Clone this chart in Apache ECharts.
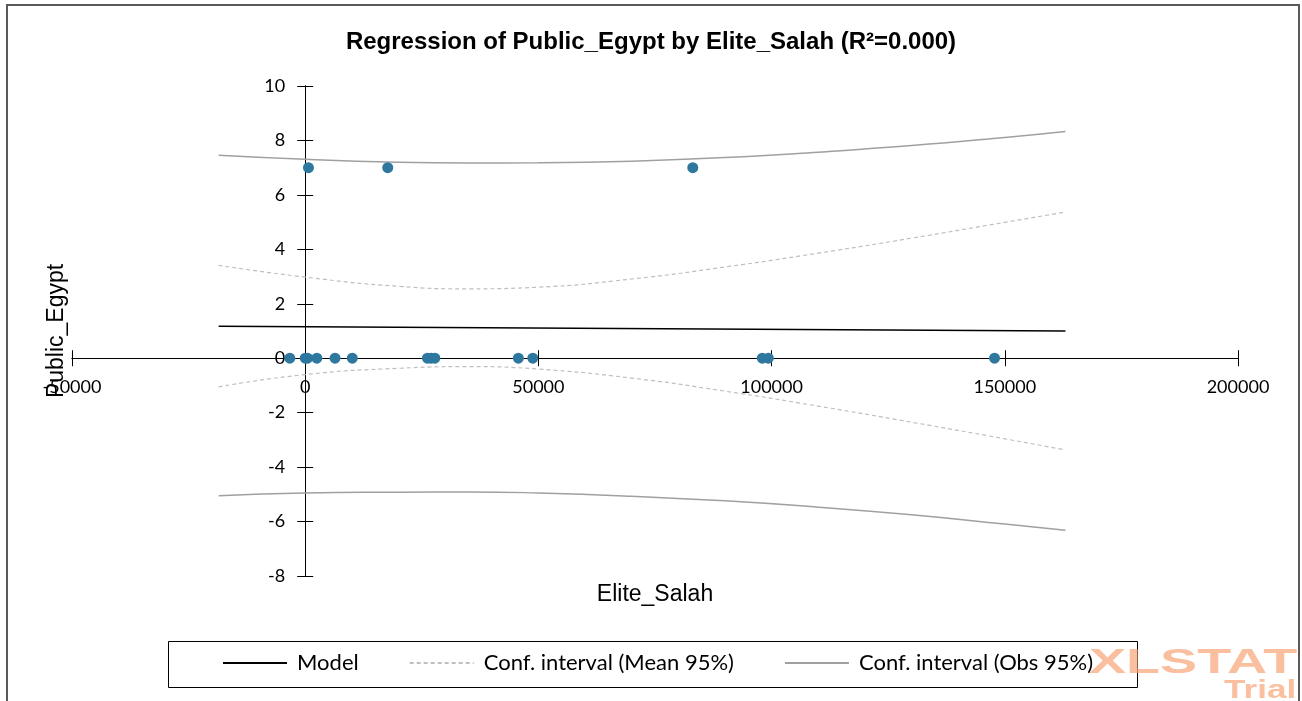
<!DOCTYPE html>
<html>
<head>
<meta charset="utf-8">
<script src="https://cdn.jsdelivr.net/npm/echarts@6/dist/echarts.min.js"></script>
<style>
html,body{margin:0;padding:0;background:#fff;}
#chart{width:1302px;height:701px;}
</style>
</head>
<body>
<div id="chart"></div>
<script>
// Observations (Elite_Salah, Public_Egypt)
var obsX = [-3300, 0, 500, 2500, 6400, 10100, 26200, 27000, 27800, 45700, 48800, 98000, 99300, 147800, 700, 17700, 83100];
var obsY = [0, 0, 0, 0, 0, 0, 0, 0, 0, 0, 0, 0, 0, 0, 7, 7, 7];

// Model line
var modelX = [-18560, 163000];
var modelY = [1.17, 1.0];

// Confidence curves sampled along x
var curveX = [-18560, 0, 20000, 35000, 50000, 70000, 90000, 110000, 130000, 150000, 163000];
var meanUpper = [3.41, 2.98, 2.64, 2.55, 2.61, 2.91, 3.35, 3.86, 4.41, 4.99, 5.37];
var meanLower = [-1.05, -0.60, -0.37, -0.31, -0.40, -0.73, -1.21, -1.76, -2.35, -2.96, -3.37];
var obsUpper = [7.46, 7.31, 7.20, 7.17, 7.18, 7.24, 7.37, 7.57, 7.81, 8.11, 8.33];
var obsLower = [-5.05, -4.95, -4.92, -4.91, -4.95, -5.07, -5.24, -5.47, -5.75, -6.09, -6.32];

// Axis scales
var xMin = -50000, xMax = 200000, xStep = 50000;
var yMin = -8, yMax = 10, yStep = 2;

var legendNames = ['Model', 'Conf. interval (Mean 95%)', 'Conf. interval (Obs 95%)'];
var titleText = 'Regression of Public_Egypt by Elite_Salah (R\u00b2=0.000)';

function pairs(xs, ys){ return xs.map(function(x,i){ return [x, ys[i]]; }); }
function plain(v){ return String(v); }

var W = 1302, H = 701;
var G = {left:72, right:64, top:86, bottom:125};
var gw = W - G.left - G.right, gh = H - G.top - G.bottom;
// shift axes so that they cross at zero (derived from the scales)
var xZeroFromLeft = gw * (0 - xMin) / (xMax - xMin);
var yZeroFromBottom = gh * (0 - yMin) / (yMax - yMin);

var chart = echarts.init(document.getElementById('chart'));
chart.setOption({
  animation:false,
  backgroundColor:'#fff',
  title:{text:titleText, left:'center', top:25,
    textStyle:{fontFamily:'Liberation Sans', fontWeight:'bold', fontSize:24, color:'#000'}},
  grid:{left:G.left, right:G.right, top:G.top, bottom:G.bottom, containLabel:false, outerBoundsMode:'none'},
  xAxis:[
    {type:'value', position:'bottom', min:xMin, max:xMax, interval:xStep, offset:-yZeroFromBottom,
     axisLine:{onZero:false, lineStyle:{color:'#000', width:1}},
     axisTick:{show:true, inside:false, length:8, lineStyle:{color:'#000'}},
     axisLabel:{margin:20, fontFamily:'Lato', fontSize:18, color:'#000', formatter:plain},
     splitLine:{show:false},
     name:'Elite_Salah', nameLocation:'middle', nameGap:225,
     nameTextStyle:{fontFamily:'Liberation Sans', fontSize:23, color:'#000'}},
    {type:'value', position:'top', min:xMin, max:xMax, interval:xStep, offset:-(gh - yZeroFromBottom),
     axisLine:{onZero:false, lineStyle:{color:'#000', width:1}},
     axisTick:{show:true, inside:false, length:8, lineStyle:{color:'#000'}},
     axisLabel:{show:false}, splitLine:{show:false}}
  ],
  yAxis:[
    {type:'value', position:'left', min:yMin, max:yMax, interval:yStep, offset:-xZeroFromLeft,
     axisLine:{show:true, onZero:false, lineStyle:{color:'#000', width:1}},
     axisTick:{show:true, inside:false, length:8, lineStyle:{color:'#000'}},
     axisLabel:{margin:20, fontFamily:'Lato', fontSize:18, color:'#000', formatter:plain},
     splitLine:{show:false},
     name:'Public_Egypt', nameLocation:'middle', nameGap:237, nameRotate:90,
     nameTextStyle:{fontFamily:'Liberation Sans', fontSize:23, color:'#000'}},
    {type:'value', position:'right', min:yMin, max:yMax, interval:yStep, offset:-(gw - xZeroFromLeft),
     axisLine:{show:true, onZero:false, lineStyle:{color:'#000', width:1}},
     axisTick:{show:true, inside:false, length:8, lineStyle:{color:'#000'}},
     axisLabel:{show:false}, splitLine:{show:false}}
  ],
  legend:{data:legendNames, left:222, top:652, padding:0, itemWidth:64, itemHeight:14, itemGap:50,
    itemStyle:{opacity:0},
    textStyle:{fontFamily:'Lato', fontSize:22, color:'#000', padding:[0,0,0,5]}},
  graphic:[
    {type:'rect', shape:{x:7, y:5, width:1292, height:720}, style:{fill:'none', stroke:'#595959', lineWidth:2}, silent:true},
    {type:'rect', shape:{x:168.5, y:641.5, width:969, height:46}, style:{fill:'none', stroke:'#000', lineWidth:1}, silent:true, z:-1},
    {type:'text', left:1089, top:646, scaleX:1.59, z:100,
     style:{text:'XLSTAT', fontFamily:'Liberation Sans', fontWeight:'bold', fontSize:35, fill:'rgba(248,170,125,0.75)'}, silent:true},
    {type:'text', left:1224, top:678, scaleX:1.35, z:100,
     style:{text:'Trial', fontFamily:'Liberation Sans', fontWeight:'bold', fontSize:26, fill:'rgba(248,170,125,0.75)'}, silent:true}
  ],
  series:[
    {name:'Model', type:'line', data:pairs(modelX, modelY), symbol:'none',
     lineStyle:{color:'#000', width:1.5}, itemStyle:{color:'#000'}, z:3},
    {name:'Conf. interval (Mean 95%)', type:'line', data:pairs(curveX, meanUpper), smooth:true, symbol:'none',
     lineStyle:{color:'#bfbfbf', width:1.2, type:[4,3]}, itemStyle:{color:'#bfbfbf'}, z:2},
    {name:'Conf. interval (Mean 95%)', type:'line', data:pairs(curveX, meanLower), smooth:true, symbol:'none',
     lineStyle:{color:'#bfbfbf', width:1.2, type:[4,3]}, itemStyle:{color:'#bfbfbf'}, z:2},
    {name:'Conf. interval (Obs 95%)', type:'line', data:pairs(curveX, obsUpper), smooth:true, symbol:'none',
     lineStyle:{color:'#a0a0a0', width:1.5}, itemStyle:{color:'#a0a0a0'}, z:2},
    {name:'Conf. interval (Obs 95%)', type:'line', data:pairs(curveX, obsLower), smooth:true, symbol:'none',
     lineStyle:{color:'#a0a0a0', width:1.5}, itemStyle:{color:'#a0a0a0'}, z:2},
    {name:'Observations', type:'scatter', data:pairs(obsX, obsY), symbol:'circle', symbolSize:11,
     itemStyle:{color:'#2e78a0', opacity:1}, z:5}
  ]
});
</script>
</body>
</html>
